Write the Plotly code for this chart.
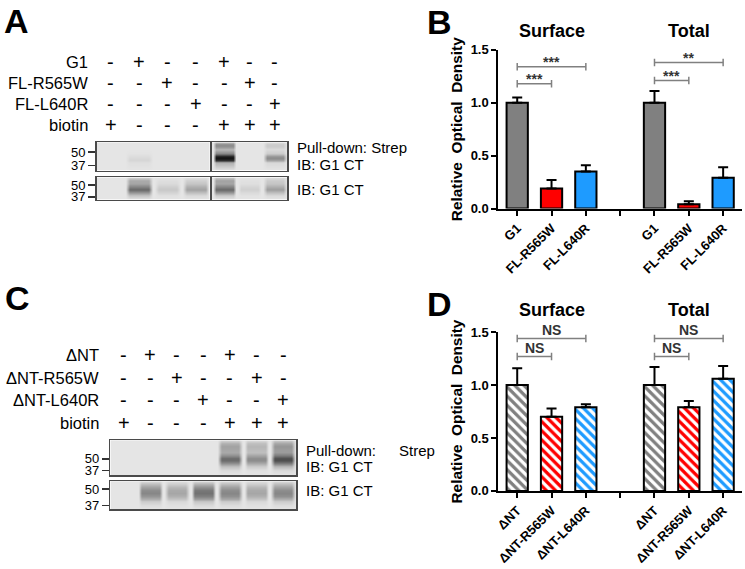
import plotly.graph_objects as go

# ---------------- data ----------------
groups = ["Surface", "Total"]
B_labels = ["G1", "FL-R565W", "FL-L640R"]
B_surface = [1.00, 0.19, 0.35]
B_surface_err = [0.05, 0.08, 0.06]
B_total = [1.00, 0.04, 0.29]
B_total_err = [0.11, 0.03, 0.10]
B_sig = [(0, 1, 1.18, "***"), (0, 2, 1.34, "***"), (4, 5, 1.21, "***"), (4, 6, 1.38, "**")]

D_labels = ["ΔNT", "ΔNT-R565W", "ΔNT-L640R"]
D_surface = [1.00, 0.70, 0.79]
D_surface_err = [0.16, 0.08, 0.03]
D_total = [1.00, 0.79, 1.06]
D_total_err = [0.17, 0.06, 0.12]
D_sig = [(0, 1, 1.27, "NS"), (0, 2, 1.44, "NS"), (4, 5, 1.27, "NS"), (4, 6, 1.44, "NS")]

y_ticks = [0.0, 0.5, 1.0, 1.5]

A_rows = ["G1", "FL-R565W", "FL-L640R", "biotin"]
C_rows = ["ΔNT", "ΔNT-R565W", "ΔNT-L640R", "biotin"]
signs = ["-+--+--",
         "--+--+-",
         "---+--+",
         "+---+++"]

# blot band darkness (0 = background, 1 = black), rows top->bottom, 7 lanes
A_top_y = [0, 2, 4, 7, 11, 14, 16, 18, 21, 29]
A_top = [
    [0, 0, 0, 0, 0.20, 0, 0.05],
    [0, 0, 0, 0, 0.42, 0, 0.12],
    [0, 0, 0, 0, 0.40, 0, 0.12],
    [0, 0, 0, 0, 0.22, 0, 0.05],
    [0, 0.01, 0, 0, 0.45, 0, 0.12],
    [0, 0.04, 0, 0, 0.95, 0, 0.38],
    [0, 0.06, 0, 0, 1.00, 0, 0.42],
    [0, 0.07, 0, 0, 0.85, 0, 0.30],
    [0, 0.03, 0, 0, 0.25, 0, 0.06],
    [0, 0, 0, 0, 0, 0, 0],
]
A_bot_y = [0, 3, 6, 9, 12, 15, 18, 23]
A_bot = [
    [0, 0.10, 0.00, 0.03, 0.15, 0.00, 0.05],
    [0, 0.28, 0.03, 0.10, 0.32, 0.02, 0.12],
    [0, 0.30, 0.05, 0.15, 0.30, 0.03, 0.15],
    [0, 0.45, 0.10, 0.25, 0.45, 0.07, 0.25],
    [0, 0.60, 0.14, 0.32, 0.60, 0.10, 0.34],
    [0, 0.38, 0.08, 0.18, 0.38, 0.05, 0.18],
    [0, 0.15, 0.02, 0.05, 0.12, 0.01, 0.05],
    [0, 0, 0, 0, 0, 0, 0],
]
C_top_y = [0, 3, 6, 9, 12, 15, 18, 21, 24, 27, 31, 36]
C_top = [
    [0, 0, 0, 0, 0.08, 0.05, 0.12],
    [0, 0, 0, 0, 0.25, 0.18, 0.30],
    [0, 0, 0, 0, 0.32, 0.22, 0.38],
    [0, 0, 0, 0, 0.30, 0.20, 0.35],
    [0, 0, 0, 0, 0.28, 0.18, 0.35],
    [0, 0, 0, 0, 0.40, 0.30, 0.50],
    [0, 0, 0, 0, 0.58, 0.42, 0.72],
    [0, 0, 0, 0, 0.58, 0.42, 0.72],
    [0, 0, 0, 0, 0.40, 0.28, 0.50],
    [0, 0, 0, 0, 0.18, 0.12, 0.22],
    [0, 0, 0, 0, 0.04, 0.02, 0.05],
    [0, 0, 0, 0, 0, 0, 0],
]
C_bot_y = [0, 3, 6, 9, 12, 15, 18, 21, 25, 29]
C_bot = [
    [0, 0.05, 0.03, 0.06, 0.05, 0.03, 0.05],
    [0, 0.20, 0.12, 0.25, 0.20, 0.12, 0.20],
    [0, 0.32, 0.22, 0.40, 0.33, 0.22, 0.32],
    [0, 0.42, 0.28, 0.52, 0.42, 0.28, 0.42],
    [0, 0.45, 0.30, 0.55, 0.45, 0.30, 0.45],
    [0, 0.38, 0.25, 0.48, 0.40, 0.25, 0.40],
    [0, 0.25, 0.15, 0.32, 0.28, 0.15, 0.25],
    [0, 0.12, 0.06, 0.15, 0.12, 0.06, 0.12],
    [0, 0.04, 0.02, 0.05, 0.04, 0.02, 0.04],
    [0, 0, 0, 0, 0, 0, 0],
]

# ---------------- layout helpers ----------------
W, H = 745, 569
FONT = "Liberation Sans, Arial, sans-serif"


def px(x):
    return x / W


def py(y):
    return 1 - y / H


fig = go.Figure()

bar_colors = ["#808080", "#ff0000", "#1e9bff"]


def add_bars(surf, surf_err, tot, tot_err, xa, ya, hatch):
    pos = [g * 4 + i for g in range(2) for i in range(3)]
    vals = surf + tot
    errs = surf_err + tot_err
    cols = bar_colors * 2
    marker = dict(color=cols, line=dict(color="black", width=2))
    if hatch:
        marker["pattern"] = dict(shape="\\", fgcolor="#111111", bgcolor=cols,
                                 size=6.5, solidity=0.5, fillmode="replace")
    fig.add_trace(go.Bar(
        x=pos, y=vals, width=0.62, marker=marker,
        error_y=dict(type="data", array=errs, arrayminus=[0] * len(errs),
                     symmetric=False, color="black", thickness=2, width=5),
        xaxis=xa, yaxis=ya, showlegend=False, hoverinfo="skip"))


add_bars(B_surface, B_surface_err, B_total, B_total_err, "x", "y", False)
add_bars(D_surface, D_surface_err, D_total, D_total_err, "x2", "y2", True)


def blot(ys, rows, lanes, xa, ya):
    xs = [lanes[0] - 0.5]
    for l in lanes:
        xs += [l - 0.46, l - 0.33, l + 0.33, l + 0.46]
    xs.append(lanes[-1] + 0.5)
    z = []
    for r in rows:
        zr = [0]
        for l in lanes:
            v = r[l]
            zr += [0, v, v, 0]
        zr.append(0)
        z.append(zr)
    fig.add_trace(go.Heatmap(
        x=xs, y=ys, z=z, zmin=0, zmax=1, zsmooth="best",
        colorscale=[[0, "#e5e5e5"], [1, "#141414"]], showscale=False,
        hoverinfo="skip", xaxis=xa, yaxis=ya))


left, right, allL = [0, 1, 2, 3], [4, 5, 6], list(range(7))
blot(A_top_y, A_top, left, "x3", "y3")
blot(A_top_y, A_top, right, "x4", "y4")
blot(A_bot_y, A_bot, left, "x5", "y5")
blot(A_bot_y, A_bot, right, "x6", "y6")
blot(C_top_y, C_top, allL, "x7", "y7")
blot(C_bot_y, C_bot, allL, "x8", "y8")

# ---------------- axes ----------------
tickfont_b = dict(family=FONT, size=13, color="black", weight="bold")


def bar_axes(labels, ytop, ybot, ya_name):
    xax = dict(domain=[px(497), px(742)], range=[-0.55, 6.55], anchor=ya_name,
               tickvals=list(range(7)), ticktext=labels + [""] + labels,
               tickangle=-45, ticks="outside", ticklen=5, tickwidth=2,
               tickcolor="black", showline=True, linewidth=2, linecolor="black",
               showgrid=False, zeroline=False, tickfont=tickfont_b, fixedrange=True)
    yax = dict(domain=[py(ybot), py(ytop)], range=[0, 1.5], tickvals=y_ticks,
               tickformat=".1f", ticks="outside", ticklen=5, tickwidth=2,
               tickcolor="black", showline=True, linewidth=2, linecolor="black",
               showgrid=False, zeroline=False, tickfont=tickfont_b,
               title=dict(text="Relative\u00a0 Optical\u00a0 Density",
                          font=dict(family=FONT, size=15.4, color="black", weight="bold"),
                          standoff=4))
    return xax, yax


xb, yb = bar_axes(B_labels, 44, 207, "y")
xd, yd = bar_axes(D_labels, 334, 497, "y2")
yb["anchor"] = "x"
yd["anchor"] = "x2"

layout_axes = dict(xaxis=xb, yaxis=yb, xaxis2=xd, yaxis2=yd)


def blot_axes(n, xdom, ydom, xr, yh, ticks_vals=None):
    xax = dict(domain=[px(xdom[0]), px(xdom[1])], range=xr, showticklabels=False,
               ticks="", showline=True, mirror=True, linewidth=1.5, linecolor="#4a4a4a",
               showgrid=False, zeroline=False, anchor="y%d" % n)
    yax = dict(domain=[py(ydom[1]), py(ydom[0])], range=[yh, 0], showline=True,
               mirror=True, linewidth=1.5, linecolor="#4a4a4a", showgrid=False,
               zeroline=False, anchor="x%d" % n)
    if ticks_vals:
        yax.update(tickvals=ticks_vals, ticktext=["50", "37"], ticks="outside",
                   ticklen=7, tickwidth=1.5, tickcolor="#333",
                   tickfont=dict(family=FONT, size=13, color="black"))
    else:
        yax.update(showticklabels=False, ticks="")
    layout_axes["xaxis%d" % n] = xax
    layout_axes["yaxis%d" % n] = yax


blot_axes(3, (93, 207), (139, 168), [-0.5, 3.5], 29, [10, 24])
blot_axes(4, (209, 285), (139, 168), [3.5, 6.5], 29)
blot_axes(5, (93, 207), (175, 198), [-0.5, 3.5], 23, [8, 20])
blot_axes(6, (209, 285), (175, 198), [3.5, 6.5], 23)
blot_axes(7, (107, 294), (445, 481), [-0.5, 6.5], 36, [19, 31])
blot_axes(8, (107, 294), (487, 516), [-0.5, 6.5], 29, [8, 25])

# ---------------- annotations & shapes ----------------
ann = []
shapes = []


def txt(x, y, s, size, xref="paper", xanchor="center", bold=False, color="black", yanchor="middle", yshift=0):
    ann.append(dict(x=x, y=y, xref=xref, yref="paper", text=s, showarrow=False,
                    xanchor=xanchor, yanchor=yanchor, yshift=yshift,
                    font=dict(family=FONT, size=size, color=color,
                              weight="bold" if bold else "normal")))


# panel letters
txt(px(13), py(14), "A", 34, bold=True)
txt(px(438), py(15), "B", 34, bold=True)
txt(px(14), py(299), "C", 34, bold=True)
txt(px(438), py(305), "D", 34, bold=True)

# group titles
for gi, g in enumerate(groups):
    txt(gi * 4 + 1, py(25), g, 18, xref="x", bold=True)
    txt(gi * 4 + 1, py(311), g, 18, xref="x2", bold=True)

# significance brackets
for sig, xr, yr in ((B_sig, "x", "y"), (D_sig, "x2", "y2")):
    for a, b, yv, s in sig:
        for (x0, x1, y0, y1) in ((a, b, yv, yv), (a, a, yv - 0.035, yv + 0.035),
                                 (b, b, yv - 0.035, yv + 0.035)):
            shapes.append(dict(type="line", xref=xr, yref=yr, x0=x0, x1=x1, y0=y0, y1=y1,
                               line=dict(color="#808080", width=1.5)))
        ann.append(dict(x=(a + b) / 2, y=yv, xref=xr, yref=yr, text=s, showarrow=False,
                        xanchor="center", yanchor="bottom",
                        yshift=-5 if "*" in s else -1,
                        font=dict(family=FONT, size=14, color="#333333", weight="bold")))

# +/- tables
A_row_y = [57, 78, 100, 121]
C_row_y = [357, 381, 404, 427]
for ri in range(4):
    txt(px(86), py(A_row_y[ri]), A_rows[ri], 16.5, xanchor="right")
    txt(px(98), py(C_row_y[ri]), C_rows[ri], 16.5, xanchor="right")
    for li, ch in enumerate(signs[ri]):
        txt(li, py(A_row_y[ri]), ch, 20, xref="x3" if li < 4 else "x4")
        txt(li, py(C_row_y[ri]), ch, 20, xref="x7")

# blot side labels
txt(px(293), py(144), "Pull-down: Strep", 15, xanchor="left")
txt(px(293), py(162), "IB: G1 CT", 15, xanchor="left")
txt(px(293), py(187), "IB: G1 CT", 15, xanchor="left")
txt(px(302), py(455), "Pull-down:", 15, xanchor="left")
txt(px(395), py(456), "Strep", 15, xanchor="left")
txt(px(302), py(472), "IB: G1 CT", 15, xanchor="left")
txt(px(302), py(497), "IB: G1 CT", 15, xanchor="left")

fig.update_layout(
    width=W, height=H, margin=dict(l=0, r=0, t=0, b=0),
    paper_bgcolor="white", plot_bgcolor="white",
    font=dict(family=FONT, color="black"),
    annotations=ann, shapes=shapes, showlegend=False, bargap=0,
    **layout_axes)

fig.write_html(
    "out.html",
    config={"displayModeBar": False, "staticPlot": True},
    post_script="document.body.style.margin='0';document.body.style.padding='0';"
                "document.body.style.overflow='hidden';")
